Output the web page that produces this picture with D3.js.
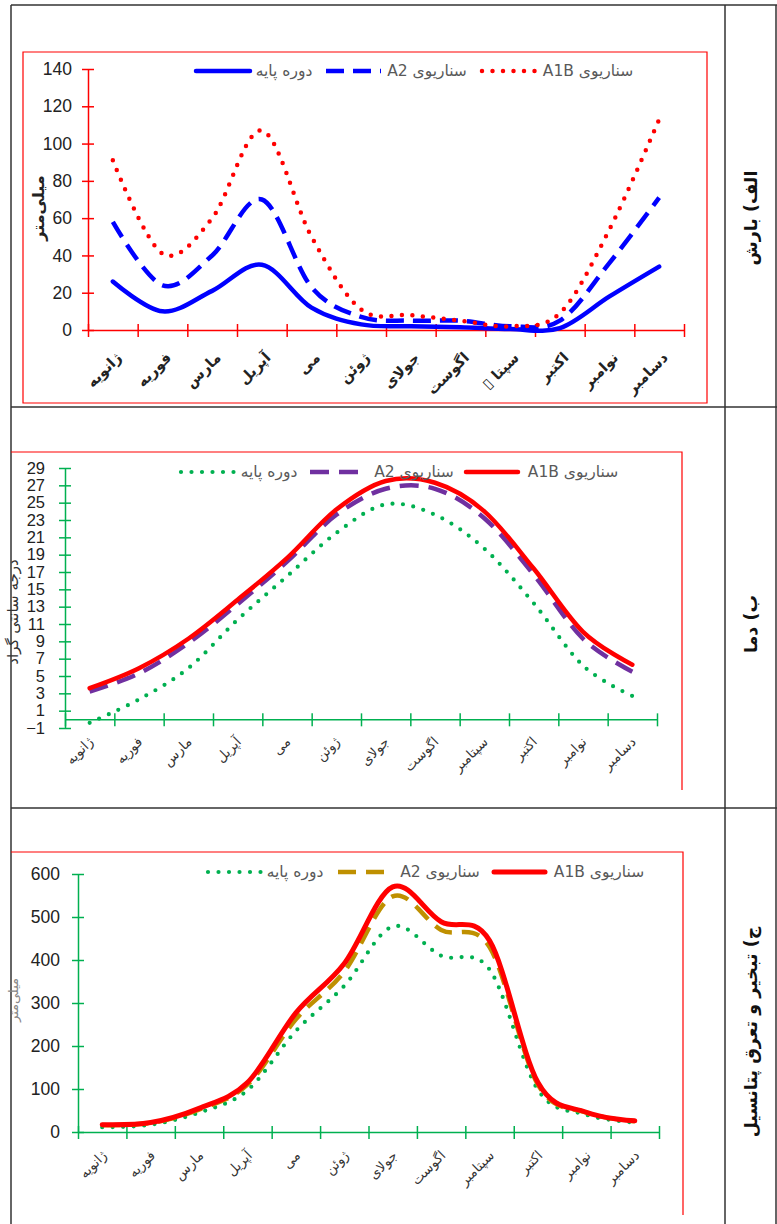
<!DOCTYPE html>
<html>
<head>
<meta charset="utf-8">
<script src="https://cdn.jsdelivr.net/npm/d3@7"></script>
<style>
body { margin: 0; background: #fff; }
svg { display: block; }
</style>
</head>
<body>
<div id="chart"></div>
<script>
// month names (panel 1 has a broken glyph in september, kept as in the picture)
const monthsP1 = ["ژانویه", "فوریه", "مارس", "آپریل", "می", "ژوئن", "جولای", "اگوست", "سپتا ▯\u200F", "اکتبر", "نوامبر", "دسامبر"]
const months = ["ژانویه", "فوریه", "مارس", "آپریل", "می", "ژوئن", "جولای", "اگوست", "سپتامبر", "اکتبر", "نوامبر", "دسامبر"]
const seriesNames = ["دوره پایه", "سناریوی A2", "سناریوی A1B"]
const rowTitles = ["الف) بارش", "ب) دما", "ج) تبخیر و تعرق پتانسیل"]

// a) precipitation, mm
const rainBase = [26, 10, 21, 35, 12, 3, 2, 1.5, 0.5, 1, 18, 34]
const rainA2   = [58, 24, 40, 70, 23, 7, 5, 5, 2, 5, 36, 71]
const rainA1B  = [91, 41, 60, 107, 50, 11, 8, 5, 2, 9, 54, 113]
const rainTicks = [0, 20, 40, 60, 80, 100, 120, 140]

// b) temperature, deg C
const tempBase = [-0.4, 2.3, 5.9, 11.5, 16.5, 21.5, 24.8, 23.6, 19.7, 13.4, 6.2, 2.7]
const tempA2   = [3.2, 5.3, 8.8, 13.3, 18.2, 23.6, 26.6, 26.6, 23.2, 16.7, 9.3, 5.5]
const tempA1B  = [3.6, 5.9, 9.3, 13.8, 18.6, 24.2, 27.5, 27.3, 24.0, 17.4, 10.1, 6.3]
const tempTicks = [-1, 1, 3, 5, 7, 9, 11, 13, 15, 17, 19, 21, 23, 25, 27, 29]

// c) potential evapotranspiration, mm
const etBase = [11, 17, 45, 97, 235, 340, 478, 410, 378, 98, 40, 22]
const etA2   = [16, 21, 52, 110, 262, 373, 548, 470, 430, 110, 45, 25]
const etA1B  = [17, 22, 55, 115, 277, 392, 570, 489, 445, 115, 46, 26]
const etTicks = [0, 100, 200, 300, 400, 500, 600]

const W = 777, H = 1224
const svg = d3.select("#chart").append("svg").attr("width", W).attr("height", H)
const numFont = "'Liberation Sans', Arial, sans-serif"
const faFont = "'DejaVu Sans', sans-serif"

// table grid
const grid = svg.append("g").attr("stroke", "#333").attr("stroke-width", 1.5).attr("fill", "none")
grid.append("line").attr("x1", 11).attr("x2", 11).attr("y1", 5).attr("y2", H)
grid.append("line").attr("x1", 725).attr("x2", 725).attr("y1", 5).attr("y2", H)
grid.append("line").attr("x1", 776).attr("x2", 776).attr("y1", 5).attr("y2", H)
;[5, 407, 808].forEach(y => grid.append("line").attr("x1", 11).attr("x2", W).attr("y1", y).attr("y2", y))

// row titles in the right column
const titleY = [218, 624, 1032]
rowTitles.forEach((t, i) => {
    svg.append("text")
        .attr("transform", `translate(757,${titleY[i]}) rotate(-90)`)
        .attr("text-anchor", "middle")
        .attr("direction", "rtl")
        .style("font-family", faFont).style("font-weight", "bold").style("font-size", "17.5px")
        .attr("fill", "#111")
        .text(t)
})

function drawPanel(p) {
    const g = svg.append("g")

    // red frame
    g.append("path").attr("d", p.frame).attr("fill", "none").attr("stroke", "#ff0000").attr("stroke-width", 1.2)

    const x = d3.scaleLinear().domain([0, 12]).range([p.x0, p.x1])
    const y = d3.scaleLinear().domain(p.domain).range([p.yBottom, p.yTop])

    // y axis
    g.append("g")
        .attr("transform", `translate(${p.x0},0)`)
        .call(d3.axisLeft(y).tickValues(p.ticks).tickSizeOuter(0).tickSizeInner(6).tickPadding(p.tickPad))
        .call(a => a.select(".domain").attr("stroke", p.axisColor).attr("stroke-width", 1.5))
        .call(a => a.selectAll(".tick line").attr("x1", -6).attr("x2", 6).attr("stroke", p.axisColor).attr("stroke-width", 1.5))
        .call(a => a.selectAll(".tick text").style("font-family", numFont).style("font-size", p.tickFont).attr("fill", "#222"))

    // x axis, ticks on month boundaries
    const xa = g.append("g")
        .attr("transform", `translate(0,${y(0)})`)
        .call(d3.axisBottom(x).tickValues(d3.range(13)).tickFormat("").tickSizeOuter(0).tickSizeInner(6))
    xa.select(".domain").attr("stroke", p.axisColor).attr("stroke-width", 1.5)
    xa.selectAll(".tick line").attr("y1", -6).attr("y2", 7).attr("stroke", p.axisColor).attr("stroke-width", 1.5)

    // month labels
    g.append("g").selectAll("text")
        .data(p.labels)
        .enter()
        .append("text")
        .attr("transform", (d, i) => `translate(${x(i + 0.5) + p.labDx},${y(0) + p.labDy}) rotate(-45)`)
        .attr("text-anchor", "end")
        .attr("dy", "0.35em")
        .style("font-family", faFont)
        .style("font-size", p.labFont)
        .style("font-weight", p.labWeight)
        .attr("fill", p.labColor)
        .text(d => d)

    // y title
    g.append("text")
        .attr("transform", `translate(${p.yTitle[0]},${p.yTitle[1]}) rotate(-90)`)
        .attr("text-anchor", "middle")
        .style("font-family", faFont)
        .style("font-size", p.yTitleFont)
        .style("font-weight", p.yTitleWeight)
        .attr("fill", p.yTitleColor)
        .text(p.yTitleText)

    const line = d3.line()
        .x((d, i) => x(i + 0.5))
        .y(d => y(d))
        .curve(d3.curveCardinal)

    p.series.forEach(s => {
        g.append("path")
            .datum(s.values)
            .attr("d", line)
            .attr("fill", "none")
            .attr("stroke", s.color)
            .attr("stroke-width", s.width)
            .attr("stroke-dasharray", s.dash)
            .attr("stroke-linecap", s.cap)
            .attr("stroke-linejoin", "round")
    })

    // legend
    p.series.forEach((s, i) => {
        const L = p.legend[i]
        g.append("line")
            .attr("x1", L[0]).attr("x2", L[1]).attr("y1", p.legendY).attr("y2", p.legendY)
            .attr("stroke", s.color).attr("stroke-width", s.width)
            .attr("stroke-dasharray", s.dash).attr("stroke-linecap", s.cap)
        g.append("text")
            .attr("x", L[2]).attr("y", p.legendY)
            .attr("dy", "0.35em")
            .attr("text-anchor", "middle")
            .attr("direction", "rtl")
            .style("font-family", faFont).style("font-size", "15.5px")
            .attr("fill", "#595959")
            .text(seriesNames[i])
    })
}

const dotted = (c, w) => ({ color: c, width: w, dash: "0,10.5", cap: "round" })

drawPanel({
    frame: "M23,52 H707 V403 H23 Z",
    x0: 88, x1: 684, yTop: 69, yBottom: 330, domain: [0, 140], ticks: rainTicks,
    axisColor: "#ff0000", tickPad: 10, tickFont: "17.5px",
    labels: monthsP1, labDx: 6, labDy: 25, labFont: "14.5px", labWeight: "bold", labColor: "#222",
    yTitle: [44, 208], yTitleText: "میلی‌متر", yTitleFont: "16px", yTitleWeight: "bold", yTitleColor: "#222",
    legendY: 71,
    legend: [[196, 250, 284], [326, 381, 427], [482, 535, 588]],
    series: [
        { values: rainBase, color: "#0000ff", width: 4.5, dash: null, cap: "round" },
        { values: rainA2, color: "#0000ff", width: 4.5, dash: "18,9", cap: "butt" },
        Object.assign({ values: rainA1B }, dotted("#ff0000", 4.5))
    ]
})

drawPanel({
    frame: "M11,452 H682 V790",
    x0: 65, x1: 657, yTop: 468, yBottom: 728, domain: [-1, 29], ticks: tempTicks,
    axisColor: "#00b050", tickPad: 14, tickFont: "16.5px",
    labels: months, labDx: 1, labDy: 20, labFont: "13.5px", labWeight: "normal", labColor: "#333",
    yTitle: [18, 612], yTitleText: "درجه سانتی گراد", yTitleFont: "15px", yTitleWeight: "normal", yTitleColor: "#333",
    legendY: 472,
    legend: [[181, 234, 269], [310, 368, 414], [466, 518, 573]],
    series: [
        Object.assign({ values: tempBase }, dotted("#00b050", 4.2)),
        { values: tempA2, color: "#7030a0", width: 4.5, dash: "19,10", cap: "butt" },
        { values: tempA1B, color: "#ff0000", width: 4.5, dash: null, cap: "round" }
    ]
})

drawPanel({
    frame: "M11,852 H683 V1215",
    x0: 78, x1: 659, yTop: 874, yBottom: 1132, domain: [0, 600], ticks: etTicks,
    axisColor: "#00b050", tickPad: 12, tickFont: "17.5px",
    labels: months, labDx: 2, labDy: 21, labFont: "13.5px", labWeight: "normal", labColor: "#333",
    yTitle: [18, 1000], yTitleText: "میلی‌متر", yTitleFont: "13px", yTitleWeight: "normal", yTitleColor: "#888",
    legendY: 872,
    legend: [[208, 262, 295], [338, 393, 440], [494, 545, 599]],
    series: [
        Object.assign({ values: etBase }, dotted("#00b050", 4.2)),
        { values: etA2, color: "#bf9000", width: 4.5, dash: "18,10", cap: "butt" },
        { values: etA1B, color: "#ff0000", width: 5, dash: null, cap: "round" }
    ]
})
</script>
</body>
</html>
